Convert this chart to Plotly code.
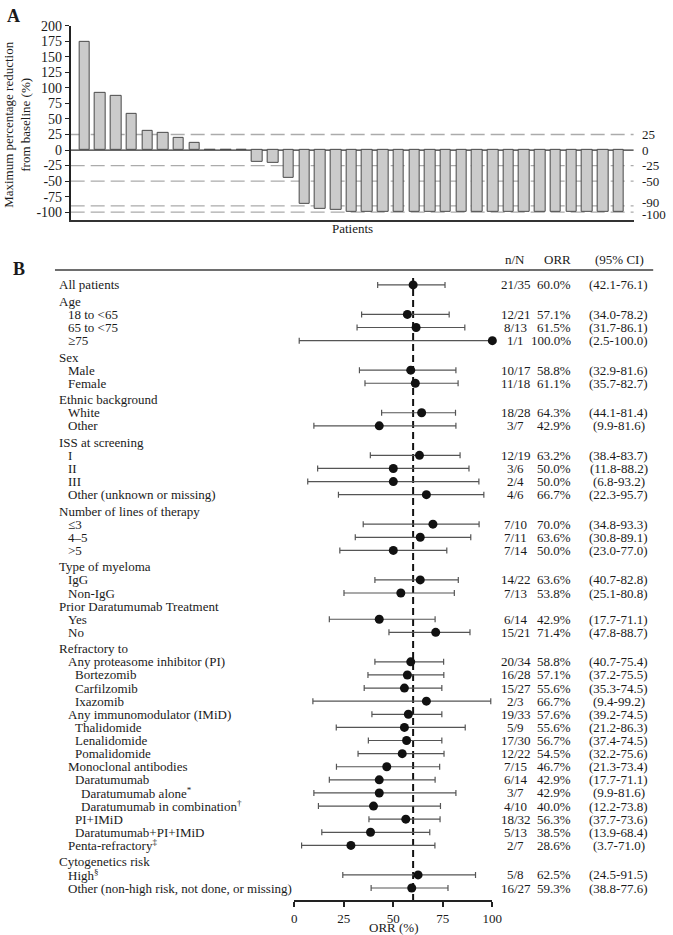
import plotly.graph_objects as go

# ---------------- data: panel A (waterfall) ----------------
patient_ids = list(range(1, 36))
max_change_pct = [174, 92, 87, 59, 31, 28, 19, 11, 1, 0, 0, -19, -21, -45, -86, -94, -97, -99,
                  -100, -100, -100, -100, -100, -100, -100, -100, -100, -100, -100, -100, -100,
                  -100, -100, -100, -100]
ref_dashed_levels = [25, -25, -50, -90, -100]
ref_label_values = [25, 0, -25, -50, -90, -100]
y_tick_values = [-100, -75, -50, -25, 0, 25, 50, 75, 100, 125, 150, 175, 200]

# ---------------- data: panel B (forest) ----------------
row_labels = [
    "All patients", "Age", "18 to <65", "65 to <75", "≥75",
    "Sex", "Male", "Female",
    "Ethnic background", "White", "Other",
    "ISS at screening", "I", "II", "III", "Other (unknown or missing)",
    "Number of lines of therapy", "≤3", "4–5", ">5",
    "Type of myeloma", "IgG", "Non-IgG",
    "Prior Daratumumab Treatment", "Yes", "No",
    "Refractory to", "Any proteasome inhibitor (PI)", "Bortezomib", "Carfilzomib", "Ixazomib",
    "Any immunomodulator (IMiD)", "Thalidomide", "Lenalidomide", "Pomalidomide",
    "Monoclonal antibodies", "Daratumumab", "Daratumumab alone<sup>*</sup>",
    "Daratumumab in combination<sup>†</sup>", "PI+IMiD", "Daratumumab+PI+IMiD",
    "Penta-refractory<sup>‡</sup>",
    "Cytogenetics risk", "High<sup>§</sup>", "Other (non-high risk, not done, or missing)",
]
row_levels = [0, 0, 1, 1, 1,
              0, 1, 1,
              0, 1, 1,
              0, 1, 1, 1, 1,
              0, 1, 1, 1,
              0, 1, 1,
              0, 1, 1,
              0, 1, 2, 2, 2,
              1, 2, 2, 2,
              1, 2, 3,
              3, 2, 2,
              1,
              0, 1, 1]
n_over_N = ["21/35", "", "12/21", "8/13", "1/1",
            "", "10/17", "11/18",
            "", "18/28", "3/7",
            "", "12/19", "3/6", "2/4", "4/6",
            "", "7/10", "7/11", "7/14",
            "", "14/22", "7/13",
            "", "6/14", "15/21",
            "", "20/34", "16/28", "15/27", "2/3",
            "19/33", "5/9", "17/30", "12/22",
            "7/15", "6/14", "3/7",
            "4/10", "18/32", "5/13",
            "2/7",
            "", "5/8", "16/27"]
orr_pct = [60.0, None, 57.1, 61.5, 100.0,
           None, 58.8, 61.1,
           None, 64.3, 42.9,
           None, 63.2, 50.0, 50.0, 66.7,
           None, 70.0, 63.6, 50.0,
           None, 63.6, 53.8,
           None, 42.9, 71.4,
           None, 58.8, 57.1, 55.6, 66.7,
           57.6, 55.6, 56.7, 54.5,
           46.7, 42.9, 42.9,
           40.0, 56.3, 38.5,
           28.6,
           None, 62.5, 59.3]
ci_low = [42.1, None, 34.0, 31.7, 2.5,
          None, 32.9, 35.7,
          None, 44.1, 9.9,
          None, 38.4, 11.8, 6.8, 22.3,
          None, 34.8, 30.8, 23.0,
          None, 40.7, 25.1,
          None, 17.7, 47.8,
          None, 40.7, 37.2, 35.3, 9.4,
          39.2, 21.2, 37.4, 32.2,
          21.3, 17.7, 9.9,
          12.2, 37.7, 13.9,
          3.7,
          None, 24.5, 38.8]
ci_high = [76.1, None, 78.2, 86.1, 100.0,
           None, 81.6, 82.7,
           None, 81.4, 81.6,
           None, 83.7, 88.2, 93.2, 95.7,
           None, 93.3, 89.1, 77.0,
           None, 82.8, 80.8,
           None, 71.1, 88.7,
           None, 75.4, 75.5, 74.5, 99.2,
           74.5, 86.3, 74.5, 75.6,
           73.4, 71.1, 81.6,
           73.8, 73.6, 68.4,
           71.0,
           None, 91.5, 77.6]
x_ticks_orr = [0, 25, 50, 75, 100]

# ---------------- layout helpers ----------------
W, H = 673, 935
def px(x):
    return x / W
def py(y):
    return 1 - y / H

FONT = "Liberation Serif"
TXT = "#1a1a1a"

# row positions (in row units): group headers get a small extra gap
STEP_PX = 13.21
GAP = 0.25
FIRST_ROW_PX = 280
no_gap_headers = {"Prior Daratumumab Treatment"}
row_u = []
extra = 0.0
for i, lab in enumerate(row_labels):
    is_header = orr_pct[i] is None
    if i > 0 and is_header and lab not in no_gap_headers:
        extra += GAP
    row_u.append(i + extra)

def u_of_px(p):
    return (p - FIRST_ROW_PX) / STEP_PX

fig = go.Figure()

# ---- Panel A bars ----
fig.add_trace(go.Bar(
    x=patient_ids, y=max_change_pct, width=0.67,
    marker=dict(color="#cbcbcb", line=dict(color="#4a4a4a", width=1)),
    xaxis="x", yaxis="y", showlegend=False, hoverinfo="skip",
))

shapes = []
for lv in ref_dashed_levels:
    shapes.append(dict(type="line", xref="x domain", yref="y", x0=0, x1=1, y0=lv, y1=lv,
                       line=dict(color="#ababab", width=1.3, dash="14px,6px"), layer="below"))
shapes.append(dict(type="line", xref="x domain", yref="y", x0=0, x1=1, y0=0, y1=0,
                   line=dict(color="#333333", width=1.2), layer="below"))

annotations = []
shift_map = {-90: 3, -100: -2}
for v in ref_label_values:
    annotations.append(dict(x=px(650), xref="paper", y=v, yref="y", text=str(v),
                            showarrow=False, xanchor="left", yanchor="middle",
                            yshift=shift_map.get(v, 0),
                            font=dict(family=FONT, size=13, color=TXT)))

annotations.append(dict(x=px(2), y=py(9), xref="paper", yref="paper", text="<b>A</b>",
                        showarrow=False, xanchor="left", yanchor="middle",
                        font=dict(family=FONT, size=18, color=TXT)))
annotations.append(dict(x=px(14), y=py(118), xref="paper", yref="paper",
                        text="Maximum percentage reduction<br>from baseline (%)",
                        textangle=-90, showarrow=False, xanchor="center", yanchor="middle",
                        font=dict(family=FONT, size=13, color=TXT)))
annotations.append(dict(x=px(356), y=py(223), xref="paper", yref="paper", text="Patients",
                        showarrow=False, xanchor="center", yanchor="middle",
                        font=dict(family=FONT, size=13, color=TXT)))

# ---- Panel B forest ----
fx, fy, eplus, eminus = [], [], [], []
for i in range(len(row_labels)):
    if orr_pct[i] is None:
        continue
    fx.append(orr_pct[i])
    fy.append(row_u[i])
    eplus.append(ci_high[i] - orr_pct[i])
    eminus.append(orr_pct[i] - ci_low[i])

fig.add_trace(go.Scatter(
    x=fx, y=fy, mode="markers", xaxis="x2", yaxis="y2", showlegend=False,
    marker=dict(color="#111111", size=9),
    error_x=dict(type="data", symmetric=False, array=eplus, arrayminus=eminus,
                 color="#555555", thickness=1.2, width=3),
    cliponaxis=False, hoverinfo="skip",
))

overall = orr_pct[0]
y_bottom_u = u_of_px(900)
y_top_u = u_of_px(265)
shapes.append(dict(type="line", xref="x2", yref="y2", x0=overall, x1=overall,
                   y0=u_of_px(273), y1=y_bottom_u,
                   line=dict(color="#111111", width=2, dash="7px,4px"), layer="below"))
shapes.append(dict(type="line", xref="paper", yref="paper", x0=px(53), x1=px(663),
                   y0=py(265), y1=py(265), line=dict(color="#6e6e6e", width=2)))

indent_px = {0: 55, 1: 64, 2: 71, 3: 77}
for i, lab in enumerate(row_labels):
    annotations.append(dict(x=px(indent_px[row_levels[i]]), xref="paper", y=row_u[i], yref="y2",
                            text=lab, showarrow=False, xanchor="left", yanchor="middle",
                            font=dict(family=FONT, size=13, color=TXT)))
    if orr_pct[i] is None:
        continue
    annotations.append(dict(x=px(523), xref="paper", y=row_u[i], yref="y2",
                            text=n_over_N[i], showarrow=False, xanchor="center", yanchor="middle",
                            font=dict(family=FONT, size=13, color=TXT)))
    annotations.append(dict(x=px(581), xref="paper", y=row_u[i], yref="y2",
                            text=f"{orr_pct[i]:.1f}%", showarrow=False, xanchor="right",
                            yanchor="middle", font=dict(family=FONT, size=13, color=TXT)))
    annotations.append(dict(x=px(628), xref="paper", y=row_u[i], yref="y2",
                            text=f"({ci_low[i]:.1f}-{ci_high[i]:.1f})", showarrow=False,
                            xanchor="center", yanchor="middle",
                            font=dict(family=FONT, size=13, color=TXT)))

for txt, xc in [("n/N", 522), ("ORR", 565), ("(95% CI)", 629)]:
    annotations.append(dict(x=px(xc), y=py(254), xref="paper", yref="paper", text=txt,
                            showarrow=False, xanchor="center", yanchor="middle",
                            font=dict(family=FONT, size=13, color=TXT)))
annotations.append(dict(x=px(8), y=py(264), xref="paper", yref="paper", text="<b>B</b>",
                        showarrow=False, xanchor="left", yanchor="middle",
                        font=dict(family=FONT, size=18, color=TXT)))
annotations.append(dict(x=px(398), y=py(927), xref="paper", yref="paper", text="ORR (%)",
                        showarrow=False, xanchor="center", yanchor="middle",
                        font=dict(family=FONT, size=13, color=TXT)))

fig.update_layout(
    width=W, height=H, margin=dict(l=0, r=0, t=0, b=0),
    paper_bgcolor="white", plot_bgcolor="white",
    font=dict(family=FONT, size=13, color=TXT),
    xaxis=dict(domain=[px(69), px(643)], range=[0.11, 35.95], anchor="y",
               showline=True, linecolor="#333333", linewidth=2, ticks="",
               showticklabels=False, showgrid=False, zeroline=False, fixedrange=True),
    yaxis=dict(domain=[py(214.5), py(19)], range=[-112.5, 200], anchor="x",
               tickvals=y_tick_values, ticktext=[str(v) for v in y_tick_values],
               ticks="outside", ticklen=4, tickcolor="#222222",
               showline=True, linecolor="#222222", linewidth=1.5,
               showgrid=False, zeroline=False,
               tickfont=dict(family=FONT, size=14, color=TXT)),
    xaxis2=dict(domain=[px(297), px(499)], range=[0, 100], anchor="y2",
                tickvals=x_ticks_orr, ticks="outside", ticklen=5, tickcolor="#222222",
                tickwidth=1.5, showline=True, linecolor="#222222", linewidth=1.5,
                showgrid=False, zeroline=False,
                tickfont=dict(family=FONT, size=13, color=TXT)),
    yaxis2=dict(domain=[py(900), py(265)], range=[y_bottom_u, y_top_u], anchor="x2",
                visible=False, showgrid=False, zeroline=False),
    shapes=shapes, annotations=annotations, bargap=0,
)

fig.write_html("out.html", config={"displayModeBar": False},
               post_script="document.body.style.margin='0';document.body.style.overflow='hidden';")
